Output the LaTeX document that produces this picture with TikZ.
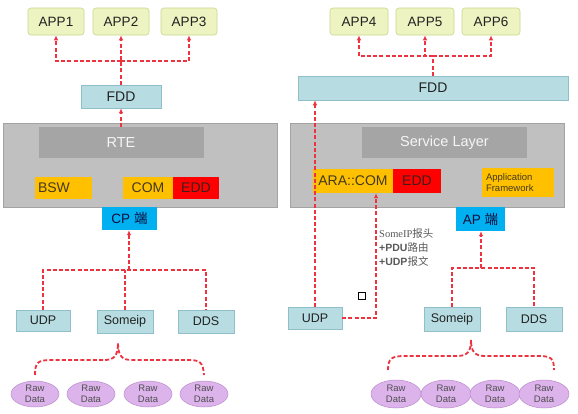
\documentclass[tikz,border=0pt]{standalone}
\usepackage{fontspec}
\setmainfont{Liberation Sans}
\newfontfamily\cjk{Noto Sans CJK SC}
\newfontfamily\serifnote{Liberation Serif}
\usetikzlibrary{arrows.meta,shapes.geometric,positioning}
\definecolor{appfill}{HTML}{EEF3C2}
\definecolor{appdraw}{HTML}{C9D78C}
\definecolor{fddfill}{HTML}{B7DDE3}
\definecolor{fdddraw}{HTML}{8FBFC9}
\definecolor{grayout}{HTML}{C0C0C0}
\definecolor{grayin}{HTML}{A5A5A5}
\definecolor{orng}{HTML}{FFC000}
\definecolor{redbox}{HTML}{FF0000}
\definecolor{cyanbox}{HTML}{00B0F0}
\definecolor{rawfill}{HTML}{DDB3EC}
\definecolor{rawdraw}{HTML}{B98BCB}
\definecolor{reddash}{HTML}{EE3340}
\definecolor{txtdark}{HTML}{222222}
\definecolor{notegray}{HTML}{5A5A5A}
\tikzset{
  appbox/.style={draw=appdraw, fill=appfill, rounded corners=3pt, line width=0.6pt,
    minimum width=56pt, minimum height=27pt, inner sep=0pt, font=\fontsize{13.5}{15}\selectfont, text=txtdark},
  fddbox/.style={draw=fdddraw, fill=fddfill, line width=0.5pt, inner sep=0pt,
    font=\fontsize{14}{16}\selectfont, text=txtdark},
  protobox/.style={draw=fdddraw, fill=fddfill, line width=0.5pt, inner sep=0pt,
    font=\fontsize{12.5}{14}\selectfont, text=txtdark},
  graybig/.style={fill=grayout, draw=grayout!85!black, line width=0.4pt, inner sep=0pt},
  grayinner/.style={fill=grayin, inner sep=0pt, text=white!92!gray, font=\fontsize{14.5}{16}\selectfont},
  orbox/.style={fill=orng, inner sep=0pt, text=txtdark!85!orng, font=\fontsize{14}{16}\selectfont},
  edbox/.style={fill=redbox, inner sep=0pt, text=txtdark!85!red, font=\fontsize{14}{16}\selectfont},
  cpbox/.style={fill=cyanbox, inner sep=0pt, text=txtdark!70!blue!60!black, font=\fontsize{13.5}{15}\selectfont},
  rawell/.style={ellipse, draw=rawdraw, fill=rawfill, line width=0.5pt, inner sep=0pt,
    minimum width=48pt, minimum height=26pt, align=center, font=\fontsize{9.5}{11.5}\selectfont, text=txtdark!80},
  rd/.style={draw=reddash, line width=1.8pt, dash pattern=on 4pt off 2.2pt},
  rdarrow/.style={rd, -{Latex[length=5pt,width=4.5pt]}},
}
\begin{document}
\begin{tikzpicture}[x=1pt,y=-1pt]
\useasboundingbox[fill=white] (0,0) rectangle (578,413);

% ---------------- Left side ----------------
\node[appbox] (app1) at (56,21.5) {APP1};
\node[appbox] (app2) at (121,21.5) {APP2};
\node[appbox] (app3) at (189,21.5) {APP3};
\node[fddbox, minimum width=80pt, minimum height=23pt] (fddL) at (121,96.5) {FDD};

\node[graybig, minimum width=274pt, minimum height=84pt] (grayL) at (140,165) {};
\node[grayinner, minimum width=165pt, minimum height=31pt] (rte) at (121,142.5) {RTE};
\node[orbox, minimum width=57pt, minimum height=22pt, text width=51pt, align=left] (bsw) at (63.5,188) {BSW};
\node[orbox, minimum width=50pt, minimum height=22pt] (com) at (148,188) {COM};
\node[edbox, minimum width=46pt, minimum height=22pt] (eddL) at (196,188) {EDD};
\node[cpbox, minimum width=55pt, minimum height=23pt] (cp) at (129.5,218.5) {CP {\cjk 端}};

\node[protobox, minimum width=54pt, minimum height=21pt] (udpL) at (43,320.5) {UDP};
\node[protobox, minimum width=56pt, minimum height=23pt] (someipL) at (125,321.5) {Someip};
\node[protobox, minimum width=56pt, minimum height=23pt] (ddsL) at (206,321.5) {DDS};

\node[rawell] (rawL1) at (35,394) {Raw\\Data};
\node[rawell] (rawL2) at (91,394) {Raw\\Data};
\node[rawell] (rawL3) at (148,394) {Raw\\Data};
\node[rawell] (rawL4) at (204,394) {Raw\\Data};

% connectors left
\coordinate (jA) at (121,61);
\draw[rdarrow] (fddL.north) -- (app2.south);
\draw[rdarrow] (jA) -| (app1.south);
\draw[rdarrow] (jA) -| (app3.south);
\draw[rdarrow] (rte.north) -- (fddL.south);

\coordinate (jCP) at (129,270);
\draw[rdarrow] (jCP) -- (cp.south -| jCP);
\draw[rd] (udpL.north) |- (jCP) -| (ddsL.north);
\draw[rd] (someipL.north) -- (someipL.north |- jCP);

% brace left
\coordinate (braceL) at (118,343);
\draw[rd] (rawL1.north |- 0,375) .. controls (35,362) and (38,360) .. (52,360)
  -- (104,360) .. controls (114,360) and (118,356) .. (braceL)
  .. controls (118,356) and (122,360) .. (132,360)
  -- (188,360) .. controls (200,360) and (203,362) .. (rawL4.north |- 0,375);

% ---------------- Right side ----------------
\node[appbox, minimum width=58pt] (app4) at (359,21.5) {APP4};
\node[appbox, minimum width=58pt] (app5) at (425,21.5) {APP5};
\node[appbox, minimum width=58pt] (app6) at (491,21.5) {APP6};
\node[fddbox, minimum width=270pt, minimum height=24pt] (fddR) at (433,88) {FDD};

\node[graybig, minimum width=274pt, minimum height=84pt] (grayR) at (427,165) {};
\node[grayinner, minimum width=165pt, minimum height=31pt] (svc) at (444.5,142.5) {Service Layer};
\node[orbox, minimum width=80pt, minimum height=24pt] (ara) at (353,181) {ARA::COM};
\node[edbox, minimum width=48pt, minimum height=24pt] (eddR) at (417,181) {EDD};
\node[orbox, minimum width=72pt, minimum height=29pt, text width=64pt, align=left, font=\fontsize{9.5}{11.5}\selectfont] (appfw) at (518,182.5) {Application\\Framework};
\node[cpbox, minimum width=49pt, minimum height=24pt] (ap) at (480.5,219) {AP {\cjk 端}};

\node[protobox, minimum width=54pt, minimum height=22pt] (udpR) at (315,318) {UDP};
\node[protobox, minimum width=56pt, minimum height=24pt] (someipR) at (452,319) {Someip};
\node[protobox, minimum width=56pt, minimum height=24pt] (ddsR) at (534,319) {DDS};

\node[rawell, minimum width=50pt, minimum height=28pt] (rawR1) at (396,394) {Raw\\Data};
\node[rawell, minimum width=50pt, minimum height=28pt] (rawR2) at (446,394) {Raw\\Data};
\node[rawell, minimum width=50pt, minimum height=28pt] (rawR3) at (495,394) {Raw\\Data};
\node[rawell, minimum width=50pt, minimum height=28pt] (rawR4) at (544,394) {Raw\\Data};

% connectors right
\coordinate (jB) at (433,56);
\draw[rd] (fddR.north) -- (jB);
\draw[rdarrow] (jB) -| (app4.south);
\draw[rdarrow] (jB) -| (app5.south);
\draw[rdarrow] (jB) -| (app6.south);

\draw[rdarrow] (udpR.north) -- (udpR.north |- fddR.south);
\draw[rdarrow] (udpR.east) -| ([xshift=23pt]ara.south);

\coordinate (jAP) at (481,268);
\draw[rdarrow] (jAP) -- (ap.south -| jAP);
\draw[rd] (someipR.north) |- (jAP) -| (ddsR.north);

% brace right
\coordinate (braceR) at (471,340);
\draw[rd] (388,370) .. controls (388,358) and (392,356) .. (405,356)
  -- (457,356) .. controls (467,356) and (471,352) .. (braceR)
  .. controls (471,352) and (475,356) .. (485,356)
  -- (538,356) .. controls (551,356) and (554,358) .. (554,370);

% note text
\node[anchor=north west, align=left, inner sep=0pt, font=\fontsize{10.5}{14}\selectfont, text=notegray] (note) at (379,228)
  {{\serifnote SomeIP}{\cjk 报头}\\
   \textbf{+PDU}{\cjk 路由}\\
   \textbf{+UDP}{\cjk 报文}};

% small square
\node[draw=black, fill=white, line width=0.8pt, minimum size=7.5pt, inner sep=0pt] (sq) at (362,296) {};
\end{tikzpicture}
\end{document}
